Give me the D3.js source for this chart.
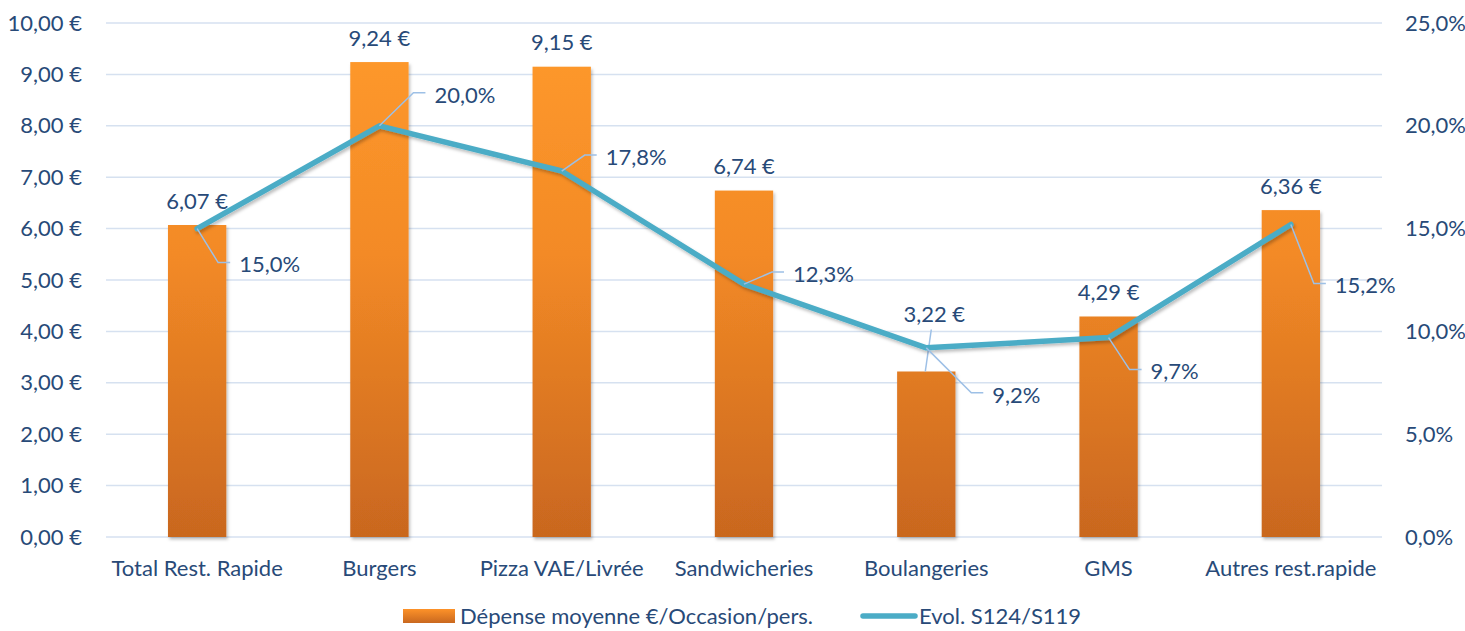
<!DOCTYPE html>
<html>
<head>
<meta charset="utf-8">
<script src="https://cdn.jsdelivr.net/npm/d3@7"></script>
<style>
  body { margin: 0; background: #fff; }
  svg text { font-family: Lato, "Open Sans", sans-serif; fill: #284A78; }
</style>
</head>
<body>
<div id="chart"></div>
<script>
const categories = ['Total Rest. Rapide', 'Burgers', 'Pizza VAE/Livrée', 'Sandwicheries', 'Boulangeries', 'GMS', 'Autres rest.rapide'];
const spend = [6.07, 9.24, 9.15, 6.74, 3.22, 4.29, 6.36];
const evol = [0.150, 0.200, 0.178, 0.123, 0.092, 0.097, 0.152];
const leftTicks = [0, 1, 2, 3, 4, 5, 6, 7, 8, 9, 10];
const rightTicks = [0, 0.05, 0.10, 0.15, 0.20, 0.25];
const seriesNames = ['Dépense moyenne €/Occasion/pers.', 'Evol. S124/S119'];

// label placement (moved by hand in the original), relative to the point
const evolLabelOffsets = [[42, 36], [55, -31], [44, -14], [49, -10], [66, 47], [42, 34], [44, 61]];

const width = 1465, height = 631;
const margin = { top: 23, right: 83, bottom: 94, left: 106 };
const innerW = width - margin.left - margin.right;
const innerH = height - margin.top - margin.bottom;
const fs = 22;

const euro = d => d3.format('.2f')(d).replace('.', ',') + ' €';
const pct = d => d3.format('.1f')(d * 100).replace('.', ',') + '%';

const svg = d3.select('#chart').append('svg')
  .attr('width', width)
  .attr('height', height);

const defs = svg.append('defs');
const grad = defs.append('linearGradient')
  .attr('id', 'barGrad')
  .attr('x1', 0).attr('y1', 0).attr('x2', 0).attr('y2', 1);
grad.append('stop').attr('offset', '0%').attr('stop-color', '#FD9229');
grad.append('stop').attr('offset', '100%').attr('stop-color', '#C9681F');

const gradBar = defs.append('linearGradient')
  .attr('id', 'barGradUnits')
  .attr('gradientUnits', 'userSpaceOnUse')
  .attr('x1', 0).attr('y1', 0).attr('x2', 0).attr('y2', innerH);
gradBar.append('stop').attr('offset', '0%').attr('stop-color', '#FF9A2C');
gradBar.append('stop').attr('offset', '45%').attr('stop-color', '#F38A26');
gradBar.append('stop').attr('offset', '100%').attr('stop-color', '#C9671F');

const shadow = defs.append('filter').attr('id', 'shadow')
  .attr('x', '-10%').attr('y', '-10%').attr('width', '130%').attr('height', '130%');
shadow.append('feDropShadow')
  .attr('dx', 1.5).attr('dy', 2.5).attr('stdDeviation', 1.5)
  .attr('flood-color', '#000').attr('flood-opacity', 0.25);

const g = svg.append('g')
  .attr('transform', `translate(${margin.left}, ${margin.top})`);

const x = d3.scaleBand()
  .domain(categories)
  .range([0, innerW])
  .paddingInner(0.68)
  .paddingOuter(0.34);

const y = d3.scaleLinear().domain([0, 10]).range([innerH, 0]);
const y2 = d3.scaleLinear().domain([0, 0.25]).range([innerH, 0]);

// gridlines
g.append('g')
  .selectAll('line')
  .data(leftTicks)
  .enter()
  .append('line')
  .attr('x1', 0).attr('x2', innerW)
  .attr('y1', d => y(d)).attr('y2', d => y(d))
  .attr('stroke', '#D6E1F0')
  .attr('stroke-width', 1.5);

// left axis
const yAxis = g.append('g')
  .call(d3.axisLeft(y).tickValues(leftTicks).tickFormat(euro).tickSize(0).tickPadding(24));
yAxis.select('.domain').remove();
yAxis.selectAll('text').attr('font-size', fs).attr('fill', '#284A78');

// right axis
const y2Axis = g.append('g')
  .attr('transform', `translate(${innerW}, 0)`)
  .call(d3.axisRight(y2).tickValues(rightTicks).tickFormat(pct).tickSize(0).tickPadding(23));
y2Axis.select('.domain').remove();
y2Axis.selectAll('text').attr('font-size', fs).attr('fill', '#284A78');

// bottom axis
const xAxis = g.append('g')
  .attr('transform', `translate(0, ${innerH})`)
  .call(d3.axisBottom(x).tickSize(0).tickPadding(23));
xAxis.select('.domain').remove();
xAxis.selectAll('text').attr('font-size', fs).attr('fill', '#284A78');

// bars
const rows = categories.map((c, i) => ({ cat: c, spend: spend[i], evol: evol[i] }));

g.append('g')
  .selectAll('rect')
  .data(rows)
  .enter()
  .append('rect')
  .attr('x', d => x(d.cat))
  .attr('y', d => y(d.spend))
  .attr('width', x.bandwidth())
  .attr('height', d => innerH - y(d.spend))
  .attr('fill', 'url(#barGradUnits)')
  .attr('filter', 'url(#shadow)');

// bar labels
const cx = d => x(d.cat) + x.bandwidth() / 2;
g.append('g')
  .selectAll('text')
  .data(rows)
  .enter()
  .append('text')
  .attr('x', d => d.cat === 'Boulangeries' ? cx(d) + 8 : cx(d))
  .attr('y', d => d.cat === 'Boulangeries' ? y(d.spend) - 57 : y(d.spend) - 24)
  .attr('dy', '0.35em')
  .attr('text-anchor', 'middle')
  .attr('font-size', fs)
  .text(d => euro(d.spend));

// leader for the moved Boulangeries bar label
rows.filter(d => d.cat === 'Boulangeries').forEach(d => {
  g.append('line')
    .attr('x1', cx(d) + 5).attr('y1', y(d.spend) - 42)
    .attr('x2', cx(d) - 1).attr('y2', y(d.spend))
    .attr('stroke', '#9DC0E6').attr('stroke-width', 1.5);
});

// line series
const line = d3.line()
  .x(d => cx(d))
  .y(d => y2(d.evol));

g.append('path')
  .datum(rows)
  .attr('d', line)
  .attr('fill', 'none')
  .attr('stroke', '#4BACC6')
  .attr('stroke-width', 5.5)
  .attr('stroke-linejoin', 'round')
  .attr('stroke-linecap', 'round')
  .attr('filter', 'url(#shadow)');

// line labels with leaders
const evolLabels = g.append('g');
rows.forEach((d, i) => {
  const px = cx(d), py = y2(d.evol);
  const tx = px + evolLabelOffsets[i][0], ty = py + evolLabelOffsets[i][1];
  evolLabels.append('polyline')
    .attr('points', `${px},${py} ${tx - 21},${ty - 2} ${tx - 9},${ty - 2}`)
    .attr('fill', 'none')
    .attr('stroke', '#9DC0E6')
    .attr('stroke-width', 1.5);
  evolLabels.append('text')
    .attr('x', tx).attr('y', ty)
    .attr('dy', '0.35em')
    .attr('font-size', fs)
    .text(pct(d.evol));
});

// legend
const legend = svg.append('g').attr('transform', 'translate(403, 616)');
legend.append('rect')
  .attr('x', 0).attr('y', -7).attr('width', 52).attr('height', 14)
  .attr('fill', 'url(#barGrad)');
legend.append('text')
  .attr('x', 57).attr('y', 0).attr('dy', '0.35em')
  .attr('font-size', fs)
  .text(seriesNames[0]);
legend.append('line')
  .attr('x1', 460).attr('x2', 512).attr('y1', 0).attr('y2', 0)
  .attr('stroke', '#4BACC6').attr('stroke-width', 5.5)
  .attr('stroke-linecap', 'round');
legend.append('text')
  .attr('x', 516).attr('y', 0).attr('dy', '0.35em')
  .attr('font-size', fs)
  .text(seriesNames[1]);
</script>
</body>
</html>
